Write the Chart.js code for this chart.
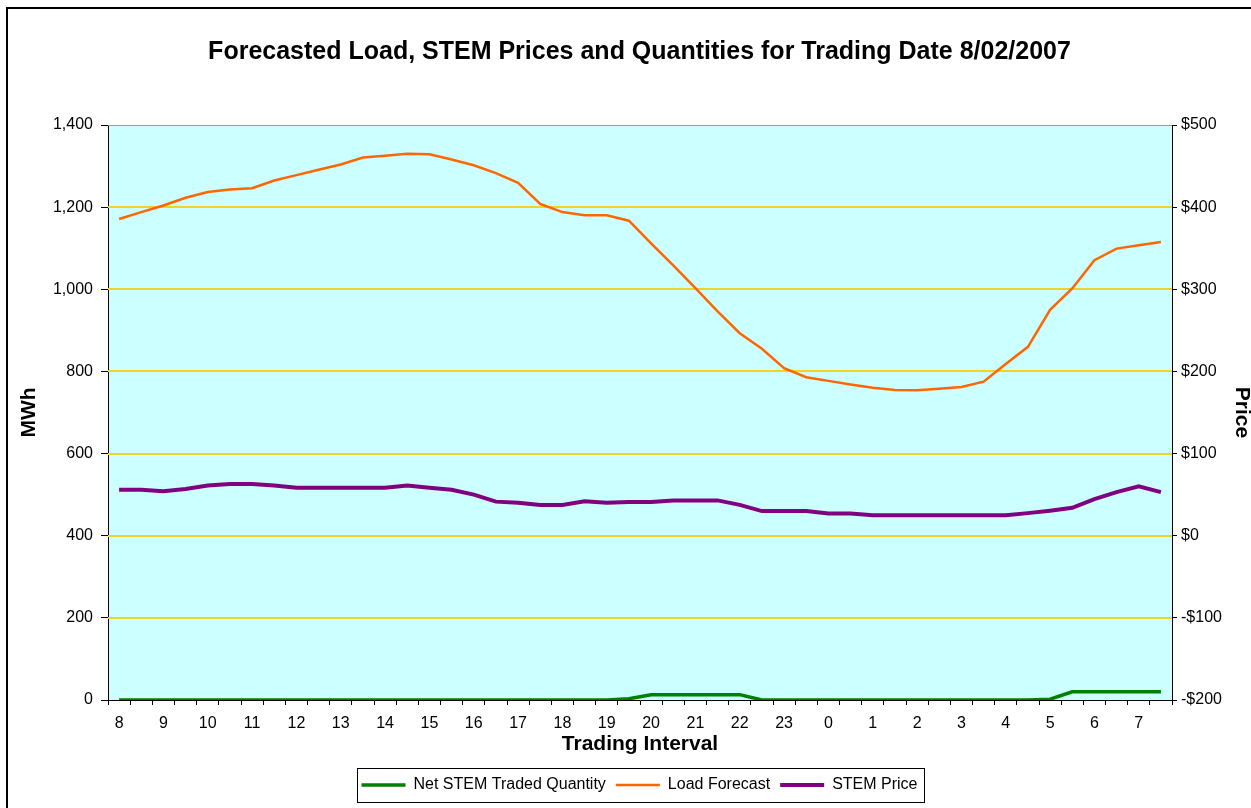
<!DOCTYPE html>
<html>
<head>
<meta charset="utf-8">
<title>Forecasted Load, STEM Prices and Quantities</title>
<script src="https://cdn.jsdelivr.net/npm/chart.js@4.4.0/dist/chart.umd.min.js"></script>
<style>
  html, body { margin: 0; padding: 0; background: #fff; }
  #wrap { position: relative; width: 1251px; height: 808px; overflow: hidden; }
  #frame { position: absolute; left: 6px; top: 7px; width: 1300px; height: 900px;
           border-left: 2px solid #000; border-top: 2px solid #000; }
  #chart { position: absolute; left: 0; top: 0; }
</style>
</head>
<body>
<div id="wrap">
  <div id="frame"></div>
  <canvas id="chart" width="1251" height="808"></canvas>
</div>
<script>
// half-hourly trading intervals, 8:00 to 7:30 next morning
const intervals = [
  '8', '8:30', '9', '9:30', '10', '10:30', '11', '11:30', '12', '12:30', '13', '13:30',
  '14', '14:30', '15', '15:30', '16', '16:30', '17', '17:30', '18', '18:30', '19', '19:30',
  '20', '20:30', '21', '21:30', '22', '22:30', '23', '23:30', '0', '0:30', '1', '1:30',
  '2', '2:30', '3', '3:30', '4', '4:30', '5', '5:30', '6', '6:30', '7', '7:30'
];

// MWh
const netTraded = [
  0, 0, 0, 0, 0, 0, 0, 0, 0, 0, 0, 0,
  0, 0, 0, 0, 0, 0, 0, 0, 0, 0, 0, 3,
  13, 13, 13, 13, 13, 0, 0, 0, 0, 0, 0, 0,
  0, 0, 0, 0, 0, 0, 2, 20, 20, 20, 20, 20
];

// MWh
const loadForecast = [
  1171, 1188, 1204, 1223, 1237, 1243, 1246, 1265, 1278, 1291, 1304, 1321,
  1325, 1330, 1329, 1316, 1302, 1283, 1259, 1208, 1188, 1180, 1180, 1167,
  1112, 1058, 1003, 946, 893, 855, 808, 786, 777, 768, 760, 755,
  754, 758, 762, 775, 818, 860, 950, 1002, 1071, 1099, 1107, 1115
];

// $/MWh
const stemPrice = [
  56, 56, 54, 57, 61, 63, 63, 61, 58.5, 58.5, 58.5, 58.5,
  58.5, 61, 58.5, 56, 50, 41.5, 40, 37.5, 37.5, 42, 40, 41,
  41, 43, 43, 43, 37.5, 30, 30, 30, 27, 27, 25, 25,
  25, 25, 25, 25, 25, 27.5, 30.5, 34, 44.5, 53, 60, 53
];

const FONT = "'Liberation Sans', Arial, sans-serif";

// cyan plot area, yellow gridlines and grey top edge, drawn under the series
const plotBackground = {
  id: 'plotBackground',
  beforeDatasetsDraw(chart) {
    const { ctx, chartArea: a, scales } = chart;
    ctx.save();
    ctx.globalCompositeOperation = 'destination-over';
    ctx.fillStyle = '#CCFFFF';
    ctx.fillRect(a.left, a.top, a.right - a.left, a.bottom - a.top);
    ctx.restore();
    ctx.save();
    scales.y.ticks.forEach((t) => {
      if (t.value === 0) return;
      const top = t.value === scales.y.max;
      const py = Math.round(scales.y.getPixelForValue(t.value));
      ctx.strokeStyle = top ? '#9a9a9a' : '#F0D22A';
      ctx.lineWidth = top ? 1 : 2;
      ctx.beginPath();
      ctx.moveTo(a.left, top ? py + 0.5 : py);
      ctx.lineTo(a.right, top ? py + 0.5 : py);
      ctx.stroke();
    });
    ctx.restore();
  }
};

const legendBox = {
  id: 'legendBox',
  afterDraw(chart) {
    const boxes = chart.legend.legendHitBoxes;
    if (!boxes || !boxes.length) return;
    const first = boxes[0];
    const last = boxes[boxes.length - 1];
    const mid = first.top + first.height / 2;
    const ctx = chart.ctx;
    ctx.save();
    ctx.strokeStyle = '#000';
    ctx.lineWidth = 1;
    ctx.strokeRect(Math.round(first.left - 5) + 0.5, Math.round(mid - 17) + 0.5,
      Math.round(last.left + last.width - first.left + 11), 34);
    ctx.restore();
  }
};

new Chart(document.getElementById('chart'), {
  type: 'line',
  data: {
    labels: intervals,
    datasets: [
      {
        label: 'Net STEM Traded Quantity',
        data: netTraded,
        yAxisID: 'y',
        borderColor: '#008000',
        backgroundColor: '#008000',
        borderWidth: 3.5
      },
      {
        label: 'Load Forecast',
        data: loadForecast,
        yAxisID: 'y',
        borderColor: '#FF6600',
        backgroundColor: '#FF6600',
        borderWidth: 2.5
      },
      {
        label: 'STEM Price',
        data: stemPrice,
        yAxisID: 'y1',
        borderColor: '#800080',
        backgroundColor: '#800080',
        borderWidth: 4
      }
    ]
  },
  options: {
    responsive: false,
    animation: false,
    layout: { padding: { left: 28, right: 0, top: 0, bottom: 5 } },
    elements: {
      point: { radius: 0, hoverRadius: 0 },
      line: { tension: 0 }
    },
    plugins: {
      title: {
        display: true,
        text: 'Forecasted Load, STEM Prices and Quantities for Trading Date 8/02/2007',
        color: '#000',
        font: { family: FONT, size: 25, weight: 'bold' },
        padding: { top: 37, bottom: 58 }
      },
      legend: {
        position: 'bottom',
        labels: {
          color: '#000',
          font: { family: FONT, size: 16 },
          usePointStyle: true,
          pointStyle: 'line',
          pointStyleWidth: 44,
          padding: 10
        }
      },
      tooltip: { enabled: false }
    },
    scales: {
      x: {
        type: 'category',
        offset: true,
        grid: {
          offset: true,
          drawOnChartArea: false,
          drawTicks: true,
          tickLength: 5,
          tickColor: '#000'
        },
        border: { color: '#000', width: 1 },
        ticks: {
          autoSkip: false,
          maxRotation: 0,
          minRotation: 0,
          padding: 9,
          color: '#000',
          font: { family: FONT, size: 16 },
          callback: (v, i) => (intervals[i].includes(':') ? '' : intervals[i])
        },
        title: {
          display: true,
          text: 'Trading Interval',
          color: '#000',
          font: { family: FONT, size: 21, weight: 'bold' },
          padding: { top: 0, bottom: 10 }
        },
        afterFit: (scale) => { scale.height = 67; }
      },
      y: {
        position: 'left',
        min: 0,
        max: 1400,
        grid: {
          drawOnChartArea: false,
          tickLength: 7,
          tickColor: '#000'
        },
        border: { color: '#000', width: 1 },
        ticks: {
          stepSize: 200,
          padding: 8,
          color: '#000',
          font: { family: FONT, size: 16 },
          callback: (v) => v.toLocaleString('en-US')
        },
        title: {
          display: true,
          text: 'MWh',
          color: '#000',
          font: { family: FONT, size: 21, weight: 'bold' },
          padding: { top: -11, bottom: 0 }
        },
        afterFit: (scale) => { scale.width = 80; }
      },
      y1: {
        position: 'right',
        min: -200,
        max: 500,
        grid: {
          drawOnChartArea: false,
          tickLength: 5,
          tickColor: '#000'
        },
        border: { color: '#000', width: 1 },
        ticks: {
          stepSize: 100,
          padding: 4,
          color: '#000',
          font: { family: FONT, size: 16 },
          callback: (v) => (v < 0 ? '-$' + Math.abs(v) : '$' + v)
        },
        title: {
          display: true,
          text: 'Price',
          color: '#000',
          font: { family: FONT, size: 21, weight: 'bold' },
          padding: { top: -3, bottom: 0 }
        },
        afterFit: (scale) => { scale.width = 79; }
      }
    }
  },
  plugins: [plotBackground, legendBox]
});
</script>
</body>
</html>
